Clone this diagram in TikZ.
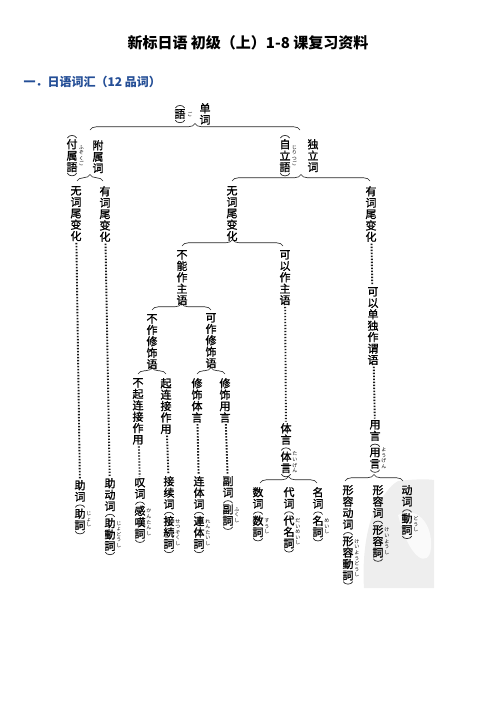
\documentclass[tikz,border=0pt]{standalone}
\usepackage{fontspec}
\newfontfamily\cn{Noto Sans CJK SC}[FakeBold=1.2]
\newfontfamily\jp{Noto Sans CJK JP}[FakeBold=1.2]
\newfontfamily\cnh{Noto Sans CJK SC}
\newfontfamily\jpf{Noto Sans CJK JP}
\usetikzlibrary{decorations.pathreplacing,calc}
\definecolor{hdblue}{RGB}{36,78,150}
\tikzset{
  vt/.style={font=\cn\fontsize{11}{11.4}\selectfont, align=center, inner sep=0pt, anchor=north},
  jt/.style={font=\jp\fontsize{11}{11.4}\selectfont, align=center, inner sep=0pt, anchor=north},
  furi/.style={font=\jpf\fontsize{5}{5.6}\selectfont, align=center, inner sep=0pt, anchor=west},
  br/.style={decorate, decoration={brace, amplitude=6.5pt}, line width=0.65pt, black!85},
  pr/.style={line width=0.7pt, black!85},
  dl/.style={line width=1.9pt, dash pattern=on 1.4pt off 1.6pt, black!90, shorten <=1.5pt, shorten >=1.5pt},
}
% vertical round brackets drawn above and below a named node
\newcommand\parens[1]{%
  \draw[pr] ($(#1.north west)+(1,-1)$) .. controls +(1.5,-3.4) and +(-1.5,-3.4) .. ($(#1.north east)+(-1,-1)$);
  \draw[pr] ($(#1.south west)+(1,1)$) .. controls +(1.5,3.4) and +(-1.5,3.4) .. ($(#1.south east)+(-1,1)$);}
\begin{document}
\begin{tikzpicture}[x=1pt,y=-1pt]
\useasboundingbox (0,0) rectangle (496,702);
% faint scan blot
\fill[gray!13] (398,481) .. controls (415,479) and (428,479) .. (434,480) -- (434,588) -- (364,588)
  .. controls (362,560) and (366,520) .. (380,500) .. controls (388,490) and (392,484) .. (398,481) -- cycle;
\fill[gray!4] (398,515) .. controls (415,505) and (433,522) .. (431,548) .. controls (429,568) and (410,562) .. (398,515) -- cycle;

% title and header
\node[font=\cnh\bfseries\fontsize{15}{17}\selectfont] (title) at (248,43) {新标日语\ 初级（上）1-8 课复习资料};
\node[anchor=west, font=\cnh\bfseries\fontsize{12}{14}\selectfont, text=hdblue] (head) at (20,82) {一．日语词汇（12 品词）};

% top
\node[jt] (go) at (180,109) {語};
\parens{go}
\node[furi] (go-f) at ($(go.east)+(1.5,0)$) {ご};
\node[vt] (tan) at (205,103) {单\\词};
\coordinate (b0l) at (90,130);
\coordinate (b0r) at (300,130);
\draw[br] (b0l) -- (b0r);

% fuzoku
\node[jt] (fzg) at (72,139) {付\\属\\語};
\parens{fzg}
\node[furi] (fzg-f) at ($(fzg.east)+(1,0)$) {ふ\\ぞ\\く\\ご};
\node[vt] (fzc) at (98,140) {附\\属\\词};
\coordinate (b1l) at (77,181);
\coordinate (b1r) at (103,181);
\draw[br] (b1l) -- (b1r);
\node[vt] (L1) at (76,186) {无\\词\\尾\\变\\化};
\node[vt] (L2) at (105,186) {有\\词\\尾\\变\\化};
\node[vt] (jo) at (80,480) {助\\词};
\node[jt] (jo-j) at ($(jo.south)+(0,6.5)$) {助\\詞};
\parens{jo-j}
\node[furi] (jo-f) at ($(jo-j.east)+(0.5,0)$) {じ\\ょ\\し};
\node[vt] (jd) at (110,478) {助\\动\\词};
\node[jt] (jd-j) at ($(jd.south)+(0,6.5)$) {助\\動\\詞};
\parens{jd-j}
\node[furi] (jd-f) at ($(jd-j.east)+(0.5,0)$) {じ\\ょ\\ど\\う\\し};
\draw[dl] (L1) -- (jo);
\draw[dl] (L2) -- (jd);

% jiritsu
\node[jt] (jrg) at (285,139) {自\\立\\語};
\parens{jrg}
\node[furi] (jrg-f) at ($(jrg.east)+(1,0)$) {じ\\り\\つ\\ご};
\node[vt] (drc) at (313,139) {独\\立\\词};
\coordinate (b2l) at (232,181);
\coordinate (b2r) at (370,181);
\draw[br] (b2l) -- (b2r);
\node[vt] (R1) at (232,186) {无\\词\\尾\\变\\化};
\node[vt] (R2) at (371,186) {有\\词\\尾\\变\\化};
\coordinate (b3l) at (182,246);
\coordinate (b3r) at (283,246);
\draw[br] (b3l) -- (b3r);
\node[vt] (N1) at (182,250) {不\\能\\作\\主\\语};
\node[vt] (N2) at (285,250) {可\\以\\作\\主\\语};
\coordinate (b4l) at (152,310);
\coordinate (b4r) at (211,310);
\draw[br] (b4l) -- (b4r);
\node[vt] (M1) at (152,314) {不\\作\\修\\饰\\语};
\node[vt] (M2) at (211,313) {可\\作\\修\\饰\\语};
\coordinate (b5l) at (138,374);
\coordinate (b5r) at (166,374);
\draw[br] (b5l) -- (b5r);
\coordinate (b6l) at (197,374);
\coordinate (b6r) at (225,374);
\draw[br] (b6l) -- (b6r);
\node[vt] (K1) at (138,378) {不\\起\\连\\接\\作\\用};
\node[vt] (K2) at (166,378) {起\\连\\接\\作\\用};
\node[vt] (K3) at (197,378) {修\\饰\\体\\言};
\node[vt] (K4) at (225,378) {修\\饰\\用\\言};
\node[vt] (kt) at (140,478) {叹\\词};
\node[jt] (kt-j) at ($(kt.south)+(0,6.5)$) {感\\嘆\\詞};
\parens{kt-j}
\node[furi] (kt-f) at ($(kt-j.east)+(0.5,0)$) {か\\ん\\た\\ん\\し};
\node[vt] (sz) at (169,476) {接\\续\\词};
\node[jt] (sz-j) at ($(sz.south)+(0,6.5)$) {接\\続\\詞};
\parens{sz-j}
\node[furi] (sz-f) at ($(sz-j.east)+(0.5,0)$) {せ\\つ\\ぞ\\く\\し};
\node[vt] (rt) at (199,476) {连\\体\\词};
\node[jt] (rt-j) at ($(rt.south)+(0,6.5)$) {連\\体\\詞};
\parens{rt-j}
\node[furi] (rt-f) at ($(rt-j.east)+(0.5,0)$) {れ\\ん\\た\\い\\し};
\node[vt] (fk) at (228,476) {副\\词};
\node[jt] (fk-j) at ($(fk.south)+(0,6.5)$) {副\\詞};
\parens{fk-j}
\node[furi] (fk-f) at ($(fk-j.east)+(0.5,0)$) {ふ\\く\\し};
\draw[dl] (K1) -- (kt);
\draw[dl] (K2) -- (sz);
\draw[dl] (K3) -- (rt);
\draw[dl] (K4) -- (fk);

% taigen
\node[vt] (ty) at (286,423) {体\\言};
\node[jt] (ty-j) at ($(ty.south)+(0,6.5)$) {体\\言};
\parens{ty-j}
\node[furi] (ty-f) at ($(ty-j.east)+(0.5,0)$) {た\\い\\げ\\ん};
\draw[dl] (N2) -- (ty);
\coordinate (b7l) at (260,483);
\coordinate (b7r) at (317,483);
\draw[br] (b7l) -- (b7r);
\node[vt] (su) at (258,487) {数\\词};
\node[jt] (su-j) at ($(su.south)+(0,6.5)$) {数\\詞};
\parens{su-j}
\node[furi] (su-f) at ($(su-j.east)+(0.5,0)$) {す\\う\\し};
\node[vt] (da) at (289,487) {代\\词};
\node[jt] (da-j) at ($(da.south)+(0,6.5)$) {代\\名\\詞};
\parens{da-j}
\node[furi] (da-f) at ($(da-j.east)+(0.5,0)$) {だ\\い\\め\\い\\し};
\node[vt] (me) at (318,487) {名\\词};
\node[jt] (me-j) at ($(me.south)+(0,6.5)$) {名\\詞};
\parens{me-j}
\node[furi] (me-f) at ($(me-j.east)+(0.5,0)$) {め\\い\\し};

% yougen
\node[vt] (yk) at (373,287) {可\\以\\单\\独\\作\\谓\\语};
\draw[dl] (R2) -- (yk);
\node[vt] (yg) at (375,420) {用\\言};
\node[jt] (yg-j) at ($(yg.south)+(0,6.5)$) {用\\言};
\parens{yg-j}
\node[furi] (yg-f) at ($(yg-j.east)+(0.5,0)$) {よ\\う\\げ\\ん};
\draw[dl] (yk) -- (yg);
\coordinate (b8l) at (345,481);
\coordinate (b8r) at (403,481);
\draw[br] (b8l) -- (b8r);
\node[vt] (kd) at (348,485) {形\\容\\动\\词};
\node[jt] (kd-j) at ($(kd.south)+(0,6.5)$) {形\\容\\動\\詞};
\parens{kd-j}
\node[furi] (kd-f) at ($(kd-j.east)+(0.5,0)$) {け\\い\\よ\\う\\ど\\う\\し};
\node[vt] (ky) at (378,485) {形\\容\\词};
\node[jt] (ky-j) at ($(ky.south)+(0,6.5)$) {形\\容\\詞};
\parens{ky-j}
\node[furi] (ky-f) at ($(ky-j.east)+(0.5,0)$) {け\\い\\よ\\う\\し};
\node[vt] (do) at (407,485) {动\\词};
\node[jt] (do-j) at ($(do.south)+(0,6.5)$) {動\\詞};
\parens{do-j}
\node[furi] (do-f) at ($(do-j.east)+(0.5,0)$) {ど\\う\\し};
\end{tikzpicture}
\end{document}
